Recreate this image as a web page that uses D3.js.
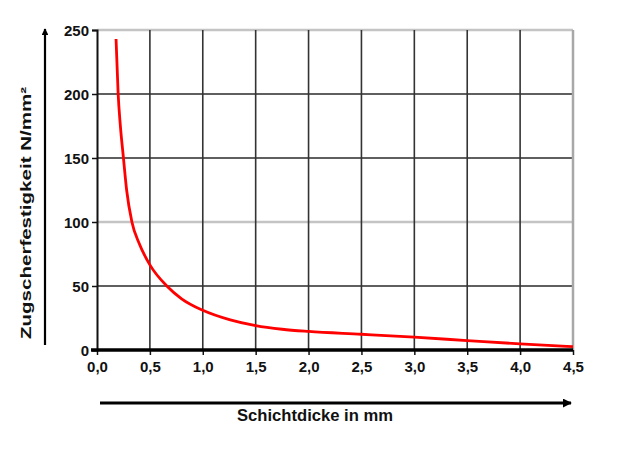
<!DOCTYPE html>
<html>
<head>
<meta charset="utf-8">
<script src="https://cdn.jsdelivr.net/npm/d3@7"></script>
<style>
  body { margin: 0; background: #fff; }
  text { font-family: "Liberation Sans", Arial, sans-serif; font-weight: bold; fill: #111; }
</style>
</head>
<body>
<div id="chart"></div>
<script>
// values
var thickness = [0.18, 0.20, 0.22, 0.25, 0.28, 0.33, 0.40, 0.5, 0.66, 0.8, 1.0, 1.26, 1.5, 1.75, 2.0, 2.5, 3.0, 3.5, 4.0, 4.5];
var strength  = [243, 200, 176, 150, 125, 100, 83, 66.5, 50, 40, 31, 23.5, 19, 16.2, 14.5, 12.3, 10, 7.4, 4.8, 2.6];
var xTicks = [0, 0.5, 1, 1.5, 2, 2.5, 3, 3.5, 4, 4.5];
var yTicks = [0, 50, 100, 150, 200, 250];
var xTitle = "Schichtdicke in mm";
var yTitle = "Zugscherfestigkeit N/mm²";

var width = 627, height = 465;
var margin = { top: 30, right: 54, bottom: 115, left: 97 };

var svg = d3.select("#chart").append("svg")
  .attr("width", width).attr("height", height);

var x = d3.scaleLinear().domain([0, 4.5]).range([margin.left, width - margin.right]);
var y = d3.scaleLinear().domain([0, 250]).range([height - margin.bottom, margin.top]);

var fmt = function(d) { return d3.format(".1f")(d).replace(".", ","); };

// grid
svg.append("g").selectAll("line").data(yTicks.slice(1)).enter().append("line")
  .attr("x1", x(0)).attr("x2", x(4.5))
  .attr("y1", function(d) { return y(d); }).attr("y2", function(d) { return y(d); })
  .attr("stroke", function(d) { return (d == 100 || d == 250) ? "#c4c4c4" : "#2a2a2a"; })
  .attr("stroke-width", function(d) { return (d == 100 || d == 250) ? 2.5 : 1.4; });

svg.append("g").selectAll("line").data(xTicks.slice(1)).enter().append("line")
  .attr("y1", y(0)).attr("y2", y(250))
  .attr("x1", function(d) { return x(d); }).attr("x2", function(d) { return x(d); })
  .attr("stroke", function(d) { return d == 4.5 ? "#a8a8a8" : "#333"; })
  .attr("stroke-width", function(d) { return d == 4.5 ? 2.5 : 1.6; });

// axes
var yAxis = svg.append("g").attr("transform", "translate(" + x(0) + ",0)")
  .call(d3.axisLeft(y).tickValues(yTicks).tickSize(5).tickPadding(3));
var xAxis = svg.append("g").attr("transform", "translate(0," + y(0) + ")")
  .call(d3.axisBottom(x).tickValues(xTicks).tickFormat(fmt).tickSize(5).tickPadding(6));

yAxis.select(".domain").attr("stroke", "#111").attr("stroke-width", 2);
xAxis.select(".domain").remove();
svg.append("line")
  .attr("x1", x(0) - 6).attr("x2", x(4.5))
  .attr("y1", y(0)).attr("y2", y(0))
  .attr("stroke", "#000").attr("stroke-width", 3.5);
svg.selectAll(".tick line").attr("stroke", "#111").attr("stroke-width", 1.5);
svg.selectAll(".tick text").style("font-size", "15px").attr("fill", "#111");
yAxis.selectAll(".tick text").attr("dy", "0.36em");

// curve
var pts = thickness.map(function(d, i) { return [d, strength[i]]; });
var line = d3.line()
  .x(function(d) { return x(d[0]); })
  .y(function(d) { return y(d[1]); })
  .curve(d3.curveMonotoneX);
svg.append("path").datum(pts)
  .attr("d", line)
  .attr("fill", "none")
  .attr("stroke", "#ff0000")
  .attr("stroke-width", 2.8);

// arrows
var defs = svg.append("defs");
defs.append("marker").attr("id", "arrow")
  .attr("viewBox", "0 0 10 10").attr("refX", 9).attr("refY", 5)
  .attr("markerWidth", 3).attr("markerHeight", 3).attr("orient", "auto")
  .append("path").attr("d", "M0,0L10,5L0,10Z").attr("fill", "#000");

svg.append("line")
  .attr("x1", 45).attr("x2", 45).attr("y1", 345).attr("y2", 29)
  .attr("stroke", "#000").attr("stroke-width", 2.2).attr("marker-end", "url(#arrow)");
svg.append("line")
  .attr("x1", 100).attr("x2", 571).attr("y1", 403).attr("y2", 403)
  .attr("stroke", "#000").attr("stroke-width", 3).attr("marker-end", "url(#arrow)");

// titles
svg.append("text")
  .attr("x", 315).attr("y", 421)
  .attr("text-anchor", "middle")
  .attr("textLength", 156).attr("lengthAdjust", "spacingAndGlyphs")
  .style("font-size", "16px")
  .text(xTitle);

svg.append("text")
  .attr("transform", "translate(31,213) rotate(-90)")
  .attr("text-anchor", "middle")
  .attr("textLength", 252).attr("lengthAdjust", "spacingAndGlyphs")
  .style("font-size", "15px")
  .text(yTitle);
</script>
</body>
</html>
